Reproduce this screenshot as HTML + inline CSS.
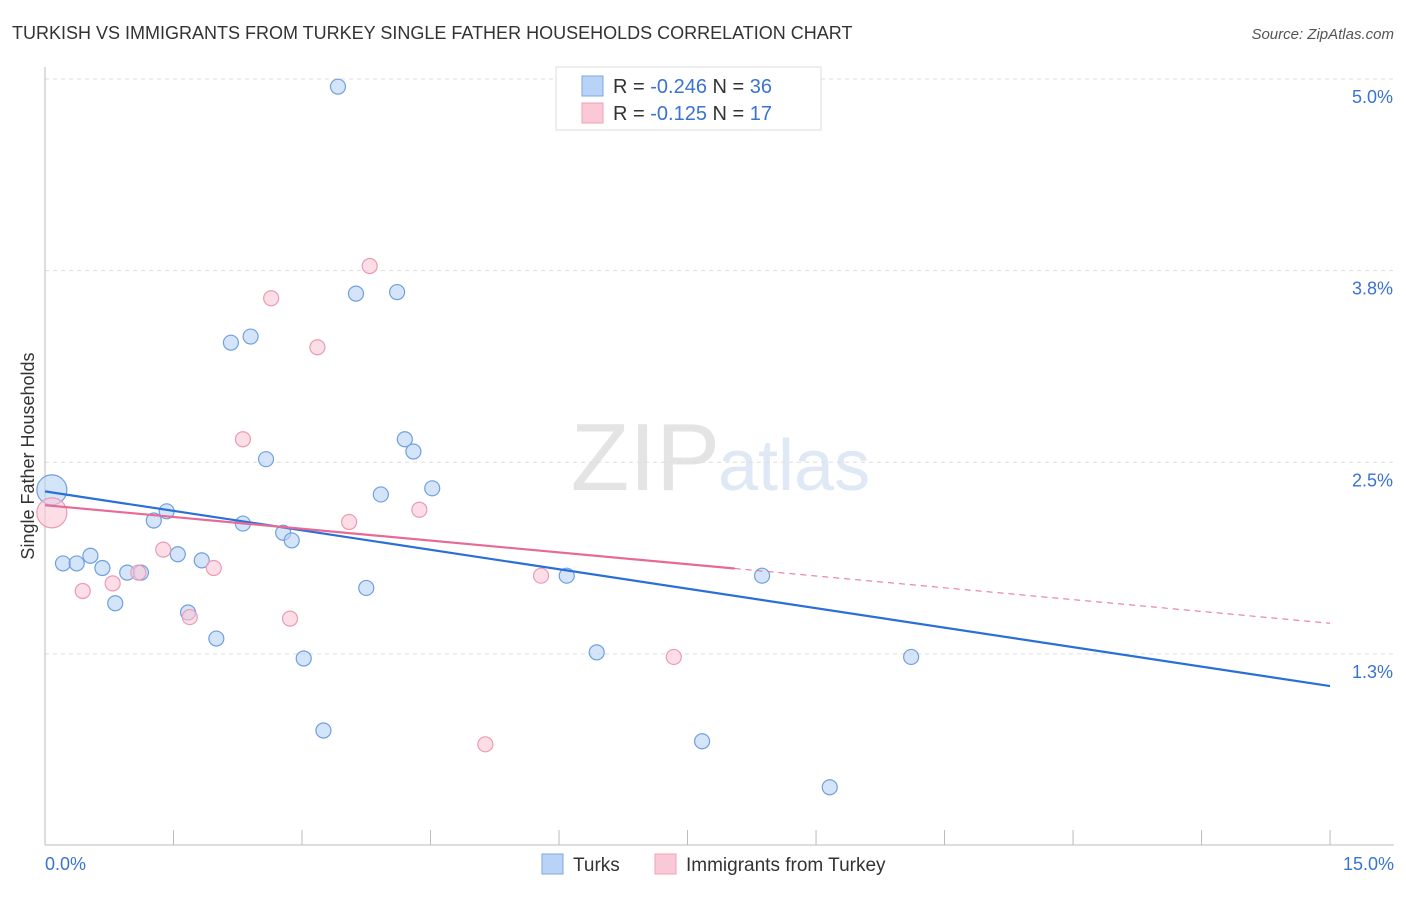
<!DOCTYPE html>
<html><head><meta charset="utf-8"><style>
body{margin:0;background:#fff;font-family:"Liberation Sans",sans-serif;}
svg text{font-family:"Liberation Sans",sans-serif;}
</style></head><body>
<svg id="chart" width="1406" height="892">
<text x="12" y="39" font-size="18" fill="#333">TURKISH VS IMMIGRANTS FROM TURKEY SINGLE FATHER HOUSEHOLDS CORRELATION CHART</text>
<text x="1394" y="39" font-size="15" fill="#555" font-style="italic" text-anchor="end">Source: ZipAtlas.com</text>
<text x="720" y="490" font-size="96" fill="#e4e4e4" text-anchor="end" font-family="Liberation Serif">ZIP</text>
<text x="718" y="490" font-size="72" fill="#dfe8f5">atlas</text>
<g id="grid"></g><g id="axes"></g><g id="marks"></g>
<text transform="translate(34,456) rotate(-90)" font-size="18" fill="#333" text-anchor="middle">Single Father Households</text>
<text x="45" y="870" font-size="18" fill="#3a73d0">0.0%</text>
<text x="1394" y="870" font-size="18" fill="#3a73d0" text-anchor="end">15.0%</text>
<g>
<rect x="556" y="67" width="265" height="63" fill="#fff" stroke="#ddd"/>
<rect x="582" y="76" width="21" height="20" fill="#b8d3f5" stroke="#7aa7e6"/>
<rect x="582" y="103" width="21" height="20" fill="#fbc8d7" stroke="#efa0b8"/>
<text x="613" y="93" font-size="20" fill="#333">R = <tspan fill="#3a73d0">-0.246</tspan>   N = <tspan fill="#3a73d0">36</tspan></text>
<text x="613" y="120" font-size="20" fill="#333">R =  <tspan fill="#3a73d0">-0.125</tspan>   N =  <tspan fill="#3a73d0">17</tspan></text>
</g>
<g>
<rect x="542" y="854" width="21" height="20" fill="#b8d3f5" stroke="#7aa7e6"/>
<text x="573" y="871" font-size="19" fill="#333">Turks</text>
<rect x="655" y="854" width="21" height="20" fill="#fbc8d7" stroke="#efa0b8"/>
<text x="686" y="871" font-size="19" fill="#333">Immigrants from Turkey</text>
</g>
</svg>
<script>
const yTicks=[5.0,3.75,2.5,1.25];
const yTickLabels=["5.0%","3.8%","2.5%","1.3%"];
const turksX=[3.42,3.63,4.11,2.17,2.40,4.20,4.30,2.58,4.52,3.92,1.42,1.27,2.31,2.78,2.88,0.53,1.55,1.83,0.21,0.37,0.67,0.96,1.12,6.09,8.37,3.75,0.82,1.67,2.00,6.44,10.11,3.02,3.25,7.67,9.16,0.08];
const turksY=[4.95,3.60,3.61,3.28,3.32,2.65,2.57,2.52,2.33,2.29,2.18,2.12,2.10,2.04,1.99,1.89,1.90,1.86,1.84,1.84,1.81,1.78,1.78,1.76,1.76,1.68,1.58,1.52,1.35,1.26,1.23,1.22,0.75,0.68,0.38,2.32];
const immX=[3.79,2.64,3.18,2.31,3.55,4.37,1.38,1.97,1.09,0.79,0.44,1.69,2.86,5.79,7.34,5.14,0.08];
const immY=[3.78,3.57,3.25,2.65,2.11,2.19,1.93,1.81,1.78,1.71,1.66,1.49,1.48,1.76,1.23,0.66,2.17];
const turksTrend=[2.31,1.04];
const immTrend=[2.22,1.45];
const immSolidEnd=8.05;
const NS="http://www.w3.org/2000/svg";
const X=v=>45+v*85.67, Y=v=>79+(5-v)*153.3;
function mk(p,t,a){const e=document.createElementNS(NS,t);for(const k in a)e.setAttribute(k,a[k]);p.appendChild(e);return e;}
const grid=document.getElementById('grid'),axes=document.getElementById('axes'),marks=document.getElementById('marks');
yTicks.forEach((t,i)=>{
 const l=mk(grid,'line',{x1:45,x2:1394,y1:Y(t),y2:Y(t),stroke:'#ddd','stroke-dasharray':'4,4'});
 
 
 const tx=mk(grid,'text',{x:1393,y:Y(t)+24,'font-size':18,fill:'#3a73d0','text-anchor':'end'});
 tx.textContent=yTickLabels[i];
 
 
});
const ya=mk(axes,'line',{x1:45,x2:45,y1:67,y2:845,stroke:'#bbb'});


const xa=mk(axes,'line',{x1:45,x2:1394,y1:845,y2:845,stroke:'#bbb'});


for(let k=0;k<=10;k++){const t=mk(axes,'line',{x1:X(k*1.5),x2:X(k*1.5),y1:830,y2:845,stroke:'#bbb'});
 
 }
turksX.forEach((x,i)=>{const big=i===turksX.length-1;
 const c=mk(marks,'circle',{cx:X(x),cy:Y(turksY[i]),r:big?15:7.5,fill:'#b8d3f5','fill-opacity':0.6,stroke:'#6f9fe0','stroke-width':1.2});
 
 });
immX.forEach((x,i)=>{const big=i===immX.length-1;
 const c=mk(marks,'circle',{cx:X(x),cy:Y(immY[i]),r:big?15:7.5,fill:'#fbc8d7','fill-opacity':0.6,stroke:'#ec9ab4','stroke-width':1.2});
 
 });
const tl=mk(marks,'line',{x1:X(0),y1:Y(turksTrend[0]),x2:X(15),y2:Y(turksTrend[1]),stroke:'#2a6fd6','stroke-width':2.2});


const iy=x=>immTrend[0]+(immTrend[1]-immTrend[0])*x/15;
const il=mk(marks,'line',{x1:X(0),y1:Y(iy(0)),x2:X(immSolidEnd),y2:Y(iy(immSolidEnd)),stroke:'#e66a95','stroke-width':2.2});


const id=mk(marks,'line',{x1:X(immSolidEnd),y1:Y(iy(immSolidEnd)),x2:X(15),y2:Y(iy(15)),stroke:'#e66a95','stroke-width':1,'stroke-dasharray':'6,5'});


</script>
</body></html>
